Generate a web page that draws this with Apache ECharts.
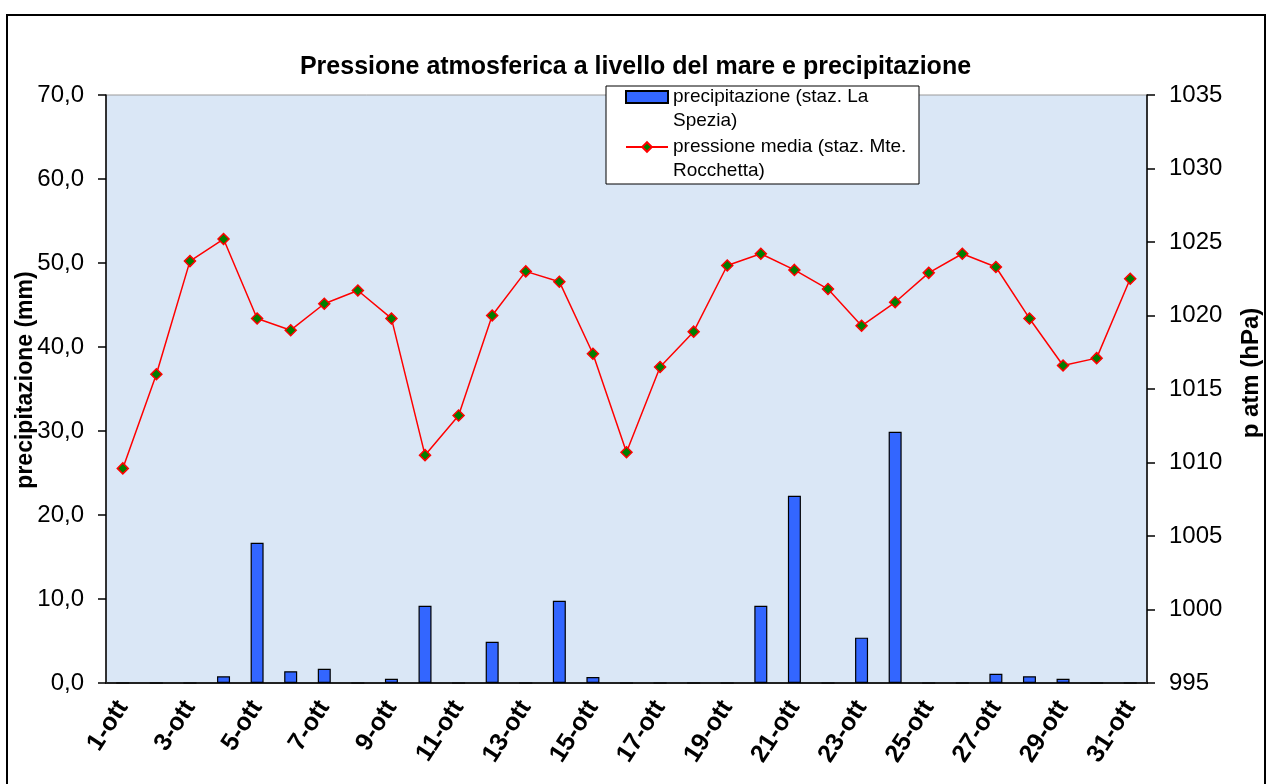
<!DOCTYPE html>
<html>
<head>
<meta charset="utf-8">
<title>Pressione atmosferica a livello del mare e precipitazione</title>
<script src="https://cdn.jsdelivr.net/npm/echarts@6/dist/echarts.min.js"></script>
<style>
    html, body { margin: 0; padding: 0; background: #fff; }
    #chart { width: 1271px; height: 784px; }
</style>
</head>
<body>
<div id="chart"></div>
<script>
var giorni = ['1-ott', '2-ott', '3-ott', '4-ott', '5-ott', '6-ott', '7-ott', '8-ott', '9-ott', '10-ott',
    '11-ott', '12-ott', '13-ott', '14-ott', '15-ott', '16-ott', '17-ott', '18-ott', '19-ott', '20-ott',
    '21-ott', '22-ott', '23-ott', '24-ott', '25-ott', '26-ott', '27-ott', '28-ott', '29-ott', '30-ott', '31-ott'];

// precipitazione giornaliera (mm) - staz. La Spezia
var precipitazione = [0, 0, 0, 0.8, 16.7, 1.4, 1.7, 0, 0.5, 9.2,
    0, 4.9, 0, 9.8, 0.7, 0, 0, 0, 0, 9.2,
    22.3, 0, 5.4, 29.9, 0, 0, 1.1, 0.8, 0.5, 0, 0];

// pressione media (hPa) - staz. Mte. Rocchetta
var pressione = [1009.6, 1016.0, 1023.7, 1025.2, 1019.8, 1019.0, 1020.8, 1021.7, 1019.8, 1010.5,
    1013.2, 1020.0, 1023.0, 1022.3, 1017.4, 1010.7, 1016.5, 1018.9, 1023.4, 1024.2,
    1023.1, 1021.8, 1019.3, 1020.9, 1022.9, 1024.2, 1023.3, 1019.8, 1016.6, 1017.1, 1022.5];

var nomePrecip = 'precipitazione (staz. La Spezia)';
var nomePress = 'pressione media (staz. Mte. Rocchetta)';
var testoLegenda = {};
testoLegenda[nomePrecip] = '\nprecipitazione (staz. La\nSpezia)';
testoLegenda[nomePress] = '\npressione media (staz. Mte.\nRocchetta)';

var font = '"Liberation Sans", Arial, sans-serif';
var chart = echarts.init(document.getElementById('chart'));

var option = {
    backgroundColor: '#fff',
    animation: false,
    textStyle: { fontFamily: font, color: '#000' },
    title: {
        text: 'Pressione atmosferica a livello del mare e precipitazione',
        left: 'center',
        top: 50,
        textStyle: { fontFamily: font, fontSize: 25, fontWeight: 'bold', color: '#000' }
    },
    graphic: [
        // cornice esterna
        {
            type: 'rect', z: 0, silent: true,
            shape: { x: 7, y: 15, width: 1258, height: 790 },
            style: { fill: 'none', stroke: '#000', lineWidth: 2 }
        },
        // riquadro della legenda
        {
            type: 'rect', z: 5, silent: true,
            shape: { x: 606, y: 86, width: 313, height: 98 },
            style: { fill: '#fff', stroke: '#000', lineWidth: 1 }
        }
    ],
    legend: {
        orient: 'vertical',
        left: 625,
        top: 61,
        padding: 0,
        itemGap: -22,
        itemWidth: 42,
        itemHeight: 12,
        z: 10,
        selectedMode: false,
        textStyle: { fontFamily: font, fontSize: 19, color: '#000', lineHeight: 24 },
        formatter: function (name) { return testoLegenda[name]; },
        data: [
            { name: nomePrecip, icon: 'rect' },
            { name: nomePress }
        ]
    },
    grid: {
        left: 106,
        right: 124,
        top: 95,
        bottom: 101,
        outerBoundsMode: 'none',
        show: true,
        backgroundColor: '#dae7f6',
        borderColor: '#9a9a9a',
        borderWidth: 1
    },
    xAxis: {
        type: 'category',
        data: giorni,
        boundaryGap: true,
        axisLine: { lineStyle: { color: '#222', width: 2 } },
        axisTick: { interval: 0, length: 7, lineStyle: { color: '#222', width: 1.5 } },
        axisLabel: {
            interval: 1,
            rotate: 57,
            margin: 20,
            fontFamily: font,
            fontSize: 25,
            fontWeight: 'bold',
            color: '#000'
        }
    },
    yAxis: [
        {
            type: 'value',
            min: 0,
            max: 70,
            interval: 10,
            name: 'precipitazione (mm)',
            nameLocation: 'middle',
            nameGap: 69,
            nameMoveOverlap: false,
            nameTextStyle: {
                fontFamily: font, fontSize: 23, fontWeight: 'bold', color: '#000',
                padding: [0, 0, 0, 18]
            },
            axisLine: { show: true, lineStyle: { color: '#000', width: 1.5 } },
            axisTick: { show: true, length: 8, lineStyle: { color: '#000', width: 1.5 } },
            splitLine: { show: false },
            axisLabel: {
                margin: 22,
                fontFamily: font,
                fontSize: 24,
                color: '#000',
                formatter: function (v) { return v.toFixed(1).replace('.', ','); }
            }
        },
        {
            type: 'value',
            min: 995,
            max: 1035,
            interval: 5,
            position: 'right',
            name: 'p atm (hPa)',
            nameLocation: 'middle',
            nameRotate: 90,
            nameGap: 92,
            nameTextStyle: {
                fontFamily: font, fontSize: 24, fontWeight: 'bold', color: '#000',
                padding: [0, 0, 0, 32]
            },
            axisLine: { show: true, lineStyle: { color: '#000', width: 1.5 } },
            axisTick: { show: true, length: 8, lineStyle: { color: '#000', width: 1.5 } },
            splitLine: { show: false },
            axisLabel: {
                margin: 22,
                fontFamily: font,
                fontSize: 24,
                color: '#000',
                formatter: function (v) { return String(v); }
            }
        }
    ],
    series: [
        {
            name: nomePrecip,
            type: 'bar',
            yAxisIndex: 0,
            barWidth: 13,
            data: precipitazione,
            itemStyle: { color: '#3366ff', borderColor: '#000', borderWidth: 1.2 }
        },
        {
            name: nomePress,
            type: 'line',
            yAxisIndex: 1,
            data: pressione,
            symbol: 'diamond',
            symbolSize: 11,
            lineStyle: { color: '#ff0000', width: 1.5 },
            itemStyle: { color: '#008000', borderColor: '#ff0000', borderWidth: 1.5 },
            z: 3
        }
    ]
};

chart.setOption(option);
</script>
</body>
</html>
